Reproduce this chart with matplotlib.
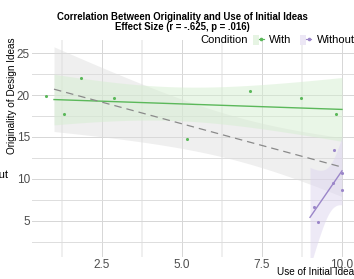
import numpy as np
import matplotlib
matplotlib.use("Agg")
import matplotlib.pyplot as plt
from matplotlib.patches import Patch
from matplotlib.lines import Line2D
from matplotlib.legend_handler import HandlerTuple

plt.rcParams['font.family'] = ['Liberation Sans', 'DejaVu Sans']

# ---- data ----
with_x = [0.75, 1.31, 1.84, 2.88, 5.16, 7.13, 8.72, 9.81]
with_y = [19.9, 17.7, 22.0, 19.6, 14.8, 20.5, 19.6, 17.7]
without_x = [9.75, 9.13, 9.25, 9.72, 10.0, 10.0]
without_y = [13.45, 6.67, 4.9, 9.5, 10.7, 8.7]
fit_range_with = [1.0, 10.0]
fit_range_without = [9.0, 10.0]
fit_range_all = [1.0, 10.0]
x_ticks = [2.5, 5.0, 7.5, 10.0]
y_ticks = [5, 10, 15, 20, 25]
t_crit = {4: 2.776, 6: 2.447, 12: 2.179}

green = '#5BB85A'
green_fill = '#D5EED0'
purple = '#9B86C9'
purple_fill = '#DDD5EF'
gray_fill = '#DCDCDC'


def fit_band(x, y, xr, n_pts=80):
    x = np.asarray(x, float)
    y = np.asarray(y, float)
    n = len(x)
    b, a = np.polyfit(x, y, 1)
    xs = np.linspace(xr[0], xr[1], n_pts)
    pred = a + b * xs
    resid = y - (a + b * x)
    s = np.sqrt(np.sum(resid ** 2) / (n - 2))
    sxx = np.sum((x - x.mean()) ** 2)
    se = s * np.sqrt(1 / n + (xs - x.mean()) ** 2 / sxx)
    t = t_crit[n - 2]
    return xs, pred, pred - t * se, pred + t * se


fig = plt.figure(figsize=(3.54, 2.79), dpi=100)
ax = fig.add_axes([32 / 354, 1 - 257 / 279, 1 - 32 / 354, (257 - 40) / 279])
ax.set_xlim(0.3125, 10.375)
ax.set_ylim(0.71, 26.55)
for s in ax.spines.values():
    s.set_visible(False)
ax.set_facecolor('white')

# grid
for xv in [1.25, 3.75, 6.25, 8.75]:
    ax.axvline(xv, color='#EEEEEE', lw=1.3, zorder=0)
for xv in x_ticks:
    ax.axvline(xv, color='#D6D6D6', lw=0.7, zorder=0)
for yv in [2.5, 7.5, 12.5, 17.5, 22.5]:
    ax.axhline(yv, color='#DDDDDD', lw=0.7, zorder=0)
for yv in y_ticks:
    ax.axhline(yv, color='#D6D6D6', lw=0.7, zorder=0)

all_x = with_x + without_x
all_y = with_y + without_y

xs, p, lo, hi = fit_band(all_x, all_y, fit_range_all)
ax.fill_between(xs, lo, hi, color=gray_fill, alpha=0.45, lw=0, zorder=1)

xs, pw, low, hiw = fit_band(with_x, with_y, fit_range_with)
ax.fill_between(xs, low, hiw, color=green_fill, alpha=0.5, lw=0, zorder=2)
ax.plot(xs, pw, color=green, lw=1.0, zorder=4)

xs2, pp, lop, hip = fit_band(without_x, without_y, fit_range_without)
ax.fill_between(xs2, lop, hip, color=purple_fill, alpha=0.5, lw=0, zorder=2)
ax.plot(xs2, pp, color=purple, lw=1.0, zorder=4)

ax.plot(xs, p, color='#8A8A8A', lw=0.9, ls=(0, (6, 4)), zorder=5)

ax.scatter(with_x, with_y, s=5, color=green, zorder=6, lw=0)
ax.scatter(without_x, without_y, s=5, color=purple, zorder=6, lw=0)

ax.set_xticks(x_ticks)
ax.set_xticklabels(['2.5', '5.0', '7.5', '10.0'])
ax.set_yticks(y_ticks)
ax.tick_params(length=0, labelsize=8.5, labelcolor='#4D4D4D', pad=1.5)

fig.text(277 / 354, 1 - 272 / 279, 'Use of Initial Ideas', ha='left', va='center',
         fontsize=7.2, color='black')
fig.text(12 / 354, 1 - 37 / 279, 'Originality of Design Ideas', ha='center', va='top',
         rotation=90, fontsize=7.2, color='black')

fig.text(182 / 354, 1 - 17 / 279, 'Correlation Between Originality and Use of Initial Ideas',
         ha='center', va='center', fontsize=6.9, fontweight='bold')
fig.text(182 / 354, 1 - 27 / 279, 'Effect Size (r = -.625, p = .016)',
         ha='center', va='center', fontsize=6.9, fontweight='bold')

fig.text(8.5 / 354, 1 - 175 / 279, 'Without', ha='right', va='center', fontsize=8)

# legend
fig.text(248 / 354, 1 - 40 / 279, 'Condition', ha='right', va='center', fontsize=8)
h1 = (Patch(facecolor='#E6F4E3', edgecolor='none'),
      Line2D([0], [0], color=green, lw=0.8, marker='o', ms=1.6))
h2 = (Patch(facecolor='#ECE7F5', edgecolor='none'),
      Line2D([0], [0], color=purple, lw=0.8, marker='o', ms=1.6))
leg = fig.legend([h1, h2], ['With', 'Without'], ncol=2, frameon=False,
                 loc='center left', bbox_to_anchor=(253 / 354, 1 - 40 / 279),
                 handler_map={tuple: HandlerTuple(ndivide=None, pad=0)},
                 handlelength=1.0, handleheight=1.0, handletextpad=0.45,
                 columnspacing=0.8, fontsize=8, borderaxespad=0, borderpad=0)

fig.savefig('out.png', dpi=100)
